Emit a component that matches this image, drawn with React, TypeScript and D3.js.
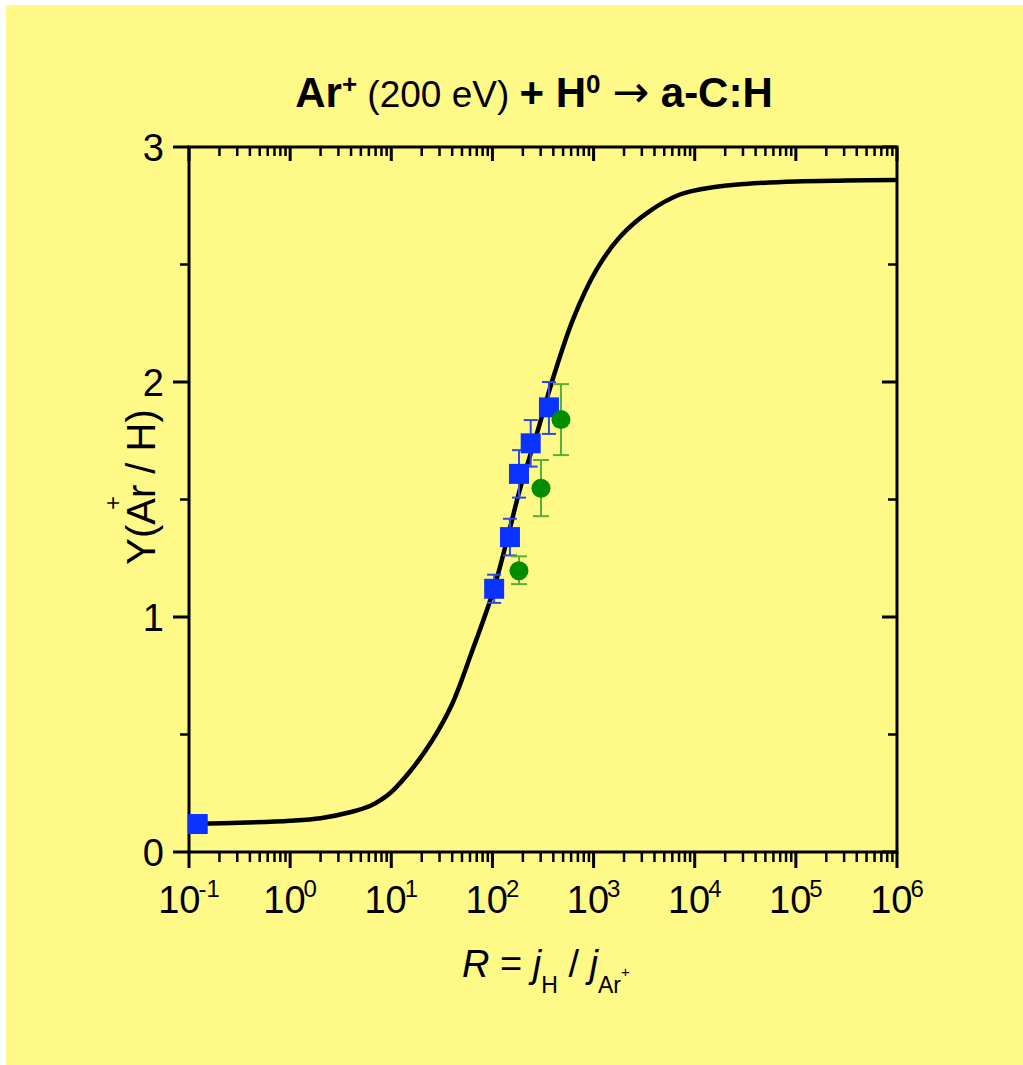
import React from "react";
import * as d3 from "d3";

// ---- data ----
const curveR = [0.123, 0.316, 1, 2, 4, 6.3, 7.9, 10, 15.8, 25, 40, 63, 100, 138, 186, 275, 400, 631, 1070, 1820, 3390, 7240, 15800, 31600, 100000, 316000, 1000000];
const curveY = [0.12, 0.124, 0.133, 0.144, 0.17, 0.198, 0.222, 0.255, 0.35, 0.47, 0.63, 0.855, 1.1, 1.32, 1.54, 1.78, 2.02, 2.27, 2.478, 2.617, 2.72, 2.799, 2.83, 2.843, 2.853, 2.857, 2.86];

const squareR = [0.122, 104, 149, 183, 239, 362];
const squareY = [0.119, 1.12, 1.34, 1.609, 1.739, 1.892];
const squareLo = [NaN, 1.06, 1.262, 1.508, 1.64, 1.779];
const squareHi = [NaN, 1.18, 1.418, 1.71, 1.838, 2.0];

const circleR = [183, 302, 476];
const circleY = [1.197, 1.548, 1.84];
const circleLo = [1.14, 1.429, 1.689];
const circleHi = [1.258, 1.668, 1.991];

const xTickExps = [-1, 0, 1, 2, 3, 4, 5, 6];
const yTicks = [0, 1, 2, 3];
const yMinorTicks = [0.5, 1.5, 2.5];

// ---- layout ----
const W = 1023;
const H = 1065;
const L = 189, R = 897, T = 147, B = 852;
const FONT = "'Liberation Sans', Arial, Helvetica, sans-serif";
const BG = "#FFFA87";

export default function App() {
  const x = d3.scaleLog().domain([0.1, 1e6]).range([L, R]);
  const y = d3.scaleLinear().domain([0, 3]).range([B, T]);

  const curvePts: [number, number][] = curveR.map((r, i) => [x(r), y(curveY[i])]);
  const line = d3.line().curve(d3.curveCatmullRom.alpha(0.5))(curvePts) || "";

  const minorX: number[] = [];
  for (let e = -1; e < 6; e++) for (let m = 2; m <= 9; m++) minorX.push(m * Math.pow(10, e));

  return (
    <svg width={W} height={H} style={{ position: "absolute", left: 0, top: 0 }} fontFamily={FONT}>
      <rect x={6} y={5} width={W - 6} height={H - 5} fill={BG} />

      {/* title */}
      <text x={534} y={107} textAnchor="middle" fill="#000">
        <tspan fontWeight="bold" fontSize={42}>Ar</tspan>
        <tspan fontWeight="bold" fontSize={26} dy={-14}>+</tspan>
        <tspan fontSize={37} dy={14}> (200 eV) </tspan>
        <tspan fontWeight="bold" fontSize={42}>+ H</tspan>
        <tspan fontWeight="bold" fontSize={26} dy={-14}>0</tspan>
        <tspan fontSize={42} dy={14}> </tspan>
        <tspan fontSize={44} fontFamily="'DejaVu Sans', sans-serif">→</tspan>
        <tspan fontWeight="bold" fontSize={42}> a-C:H</tspan>
      </text>

      {/* minor x ticks */}
      {minorX.map((v, i) => (
        <g key={"mx" + i} stroke="#000" strokeWidth={2.5}>
          <line x1={x(v)} x2={x(v)} y1={B} y2={B + 10} />
          <line x1={x(v)} x2={x(v)} y1={T} y2={T + 9} />
        </g>
      ))}
      {/* major x ticks */}
      {xTickExps.map((e) => {
        const px = x(Math.pow(10, e));
        return (
          <g key={"Mx" + e} stroke="#000" strokeWidth={3}>
            <line x1={px} x2={px} y1={B} y2={B + 16} />
            <line x1={px} x2={px} y1={T} y2={T + 14} />
          </g>
        );
      })}
      {/* y ticks */}
      {yTicks.map((v) => (
        <g key={"My" + v} stroke="#000" strokeWidth={3}>
          <line x1={L - 16} x2={L} y1={y(v)} y2={y(v)} />
          <line x1={R - 15} x2={R} y1={y(v)} y2={y(v)} />
        </g>
      ))}
      {yMinorTicks.map((v) => (
        <g key={"my" + v} stroke="#000" strokeWidth={2.5}>
          <line x1={L - 9} x2={L} y1={y(v)} y2={y(v)} />
          <line x1={R - 9} x2={R} y1={y(v)} y2={y(v)} />
        </g>
      ))}

      {/* frame */}
      <rect x={L} y={T} width={R - L} height={B - T} fill="none" stroke="#000" strokeWidth={3} />

      {/* x tick labels */}
      {xTickExps.map((e) => (
        <text key={"xl" + e} x={x(Math.pow(10, e))} y={913} textAnchor="middle" fill="#000">
          <tspan fontSize={38}>10</tspan>
          <tspan fontSize={24} dy={-16} dx={-2}>{e < 0 ? "-" + Math.abs(e) : String(e)}</tspan>
        </text>
      ))}
      {/* y tick labels */}
      {yTicks.map((v) => (
        <text key={"yl" + v} x={164} y={y(v) + 13.5} textAnchor="end" fontSize={38} fill="#000">
          {v}
        </text>
      ))}

      {/* y axis label */}
      <g transform="translate(155,487) rotate(-90)">
        <text x={0} y={0} textAnchor="middle" fontSize={40} fill="#000">Y(Ar / H)</text>
        <text x={-16} y={-34} textAnchor="middle" fontSize={24} fill="#000">+</text>
      </g>

      {/* x axis label */}
      <text x={462} y={977} fill="#000" fontSize={38}>
        <tspan fontStyle="italic">R</tspan>
        <tspan> = </tspan>
        <tspan fontStyle="italic">j</tspan>
        <tspan fontSize={23} dy={16}>H</tspan>
        <tspan dy={-16}> / </tspan>
        <tspan fontStyle="italic">j</tspan>
        <tspan fontSize={23} dy={16}>Ar</tspan>
        <tspan fontSize={15} dy={-16}>+</tspan>
      </text>

      {/* curve */}
      <path d={line} fill="none" stroke="#000" strokeWidth={4.5} strokeLinejoin="round" />

      {/* square error bars */}
      {squareR.map((r, i) =>
        isNaN(squareLo[i]) ? null : (
          <g key={"se" + i} stroke="#2a4be8" strokeWidth={2}>
            <line x1={x(r)} x2={x(r)} y1={y(squareLo[i])} y2={y(squareHi[i])} />
            <line x1={x(r) - 7} x2={x(r) + 7} y1={y(squareLo[i])} y2={y(squareLo[i])} />
            <line x1={x(r) - 7} x2={x(r) + 7} y1={y(squareHi[i])} y2={y(squareHi[i])} />
          </g>
        )
      )}
      {/* circle error bars */}
      {circleR.map((r, i) => (
        <g key={"ce" + i} stroke="#5aae3a" strokeWidth={2}>
          <line x1={x(r)} x2={x(r)} y1={y(circleLo[i])} y2={y(circleHi[i])} />
          <line x1={x(r) - 8} x2={x(r) + 8} y1={y(circleLo[i])} y2={y(circleLo[i])} />
          <line x1={x(r) - 8} x2={x(r) + 8} y1={y(circleHi[i])} y2={y(circleHi[i])} />
        </g>
      ))}
      {/* squares */}
      {squareR.map((r, i) => (
        <rect key={"s" + i} x={x(r) - 10} y={y(squareY[i]) - 10} width={20} height={20} fill="#0A33FF" />
      ))}
      {/* circles */}
      {circleR.map((r, i) => (
        <circle key={"c" + i} cx={x(r)} cy={y(circleY[i])} r={9.5} fill="#008C00" />
      ))}
    </svg>
  );
}
